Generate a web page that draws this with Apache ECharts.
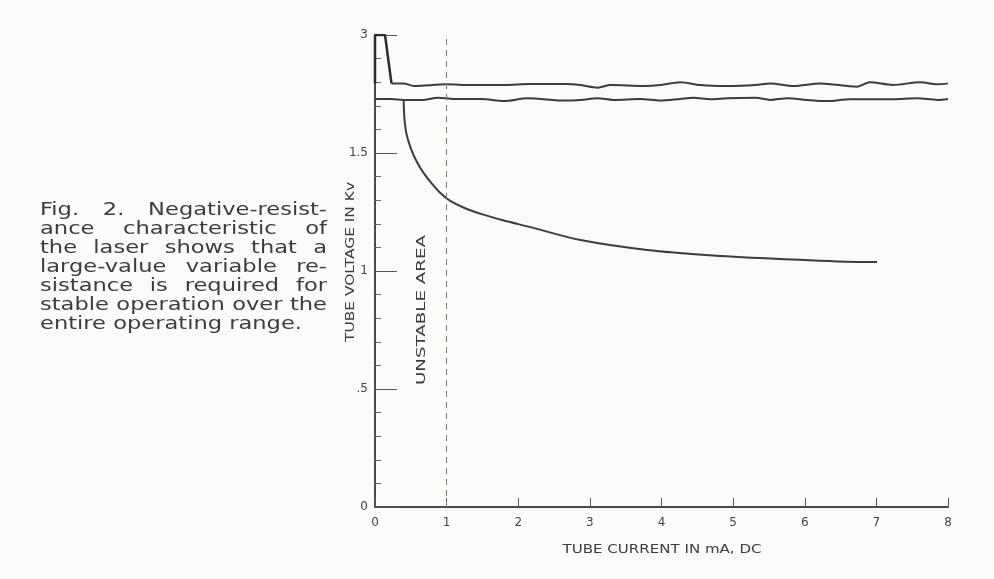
<!DOCTYPE html>
<html><head><meta charset="utf-8">
<script src="https://cdn.jsdelivr.net/npm/echarts@6/dist/echarts.min.js"></script>
<style>html,body{margin:0;padding:0;background:#fbfbf9}#c{width:994px;height:579px}</style>
</head><body><div id="c"></div>
<script>
// ---- data ----
const xTickValues = [0,1,2,3,4,5,6,7,8];
const yTickValues = [0,0.5,1,1.5,2];
const yTickLabels = ['0','.5','1','1.5','3'];
const unstableX = 1;
const spike = [[0,1.795],[0,2.0],[0.14,2.0],[0.23,1.795]];
const upperLine = [[0.23,1.795],[0.40,1.795],[0.54,1.784],[1.0,1.791],[1.34,1.788],[1.80,1.788],[2.17,1.792],[2.66,1.792],[2.87,1.788],[3.11,1.777],[3.29,1.788],[3.75,1.784],[3.99,1.788],[4.26,1.800],[4.54,1.788],[4.92,1.784],[5.31,1.788],[5.52,1.795],[5.84,1.784],[6.22,1.795],[6.73,1.781],[6.91,1.800],[7.23,1.788],[7.61,1.800],[7.85,1.791],[8.0,1.795]];
const lowerLine = [[0,1.729],[0.22,1.729],[0.40,1.725],[0.68,1.725],[0.88,1.734],[1.10,1.729],[1.48,1.729],[1.80,1.720],[2.13,1.732],[2.66,1.722],[2.87,1.725],[3.11,1.732],[3.33,1.725],[3.71,1.729],[3.99,1.722],[4.26,1.729],[4.45,1.734],[4.68,1.728],[4.92,1.732],[5.31,1.734],[5.52,1.725],[5.76,1.732],[6.03,1.725],[6.31,1.720],[6.63,1.728],[6.91,1.728],[7.23,1.728],[7.57,1.732],[7.85,1.725],[8.0,1.729]];
const curve = [[0.40,1.725],[0.41,1.65],[0.44,1.58],[0.50,1.52],[0.58,1.465],[0.68,1.415],[0.80,1.368],[0.92,1.328],[1.05,1.297],[1.25,1.267],[1.50,1.240],[1.80,1.214],[2.17,1.186],[2.87,1.131],[3.80,1.089],[4.72,1.066],[5.66,1.051],[6.82,1.038],[7.01,1.038]];
const captionLines = ['Fig. 2. Negative-resist-','ance characteristic of','the laser shows that a','large-value variable re-','sistance is required for','stable operation over the','entire operating range.'];
const xName = 'TUBE CURRENT IN mA, DC';
const yName = 'TUBE VOLTAGE IN Kv';
const areaLabel = 'UNSTABLE AREA';

// ---- helpers ----
const ctx = document.createElement('canvas').getContext('2d');
function tw(t, font){ ctx.font = font; return ctx.measureText(t).width; }
const TXT = '#3c3c3c';
const FAM = "'DejaVu Sans'";
const graphics = [];

// caption, justified
(function(){
  const fs = 17, font = fs + 'px ' + FAM;
  const left = 40, width = 287, top0 = 211, lh = 19;
  const sc = 262 / tw(captionLines[captionLines.length-1], font);
  captionLines.forEach((line, i) => {
    const words = line.split(' ');
    const ws = words.map(w => tw(w, font) * sc);
    const sum = ws.reduce((a,b)=>a+b,0);
    const last = i === captionLines.length - 1;
    const gap = last ? tw(' ', font) * sc : (width - sum) / (words.length - 1);
    let x = left;
    words.forEach((w, k) => {
      graphics.push({type:'text', x:x, y:top0 + i*lh, scaleX:sc, silent:true,
        style:{text:w, font:font, fill:TXT, textVerticalAlign:'middle'}});
      x += ws[k] + gap;
    });
  });
})();

function scaledText(text, fs, target, x, y, rot){
  const font = fs + 'px ' + FAM;
  const sc = target / tw(text, font);
  graphics.push({type:'text', x:x, y:y, rotation:rot||0, scaleX:sc, silent:true,
    style:{text:text, font:font, fill:TXT, textAlign:'center', textVerticalAlign:'middle'}});
}
scaledText(yName, 12, 160, 351, 262, Math.PI/2);
scaledText(areaLabel, 12, 150, 422, 310, Math.PI/2);
scaledText(xName, 12, 199, 662, 550, 0);

const lineStyle = {color:'#3a3d3d', width:2};
const chart = echarts.init(document.getElementById('c'), null, {renderer:'canvas'});
chart.setOption({
  animation:false,
  backgroundColor:'#fbfbf9',
  grid:{left:375, right:46, top:35, bottom:72},
  xAxis:{type:'value', min:0, max:8, interval:1,
    axisLine:{lineStyle:{color:'#4a4a4a', width:2}},
    axisTick:{inside:true, length:9, lineStyle:{color:'#555', width:1}},
    axisLabel:{margin:10, color:'#444', fontSize:12, fontFamily:'DejaVu Sans',
      formatter: v => xTickValues.indexOf(v) >= 0 ? String(v) : ''},
    splitLine:{show:false}},
  yAxis:{type:'value', min:0, max:2, interval:0.5,
    axisLine:{show:true, lineStyle:{color:'#4a4a4a', width:2}},
    axisTick:{show:true, inside:true, length:22, lineStyle:{color:'#555', width:1}},
    minorTick:{show:true, splitNumber:5, length:6, lineStyle:{color:'#666', width:1}},
    axisLabel:{margin:7, color:'#444', fontSize:12, fontFamily:'DejaVu Sans',
      formatter: v => { const i = yTickValues.indexOf(v); return i >= 0 ? yTickLabels[i] : ''; }},
    splitLine:{show:false}},
  series:[
    {type:'line', data:spike, showSymbol:false, lineStyle:{color:'#2a2d2d', width:2.5}, z:3,
      markLine:{silent:true, symbol:['none','none'], label:{show:false},
        lineStyle:{type:[6,5], color:'#7a7a8a', width:1},
        data:[{xAxis:unstableX}]}},
    {type:'line', data:upperLine, showSymbol:false, smooth:0.3, lineStyle:lineStyle},
    {type:'line', data:lowerLine, showSymbol:false, smooth:0.3, lineStyle:lineStyle},
    {type:'line', data:curve, showSymbol:false, smooth:0.3, lineStyle:lineStyle}
  ],
  graphic:graphics
});
</script></body></html>
